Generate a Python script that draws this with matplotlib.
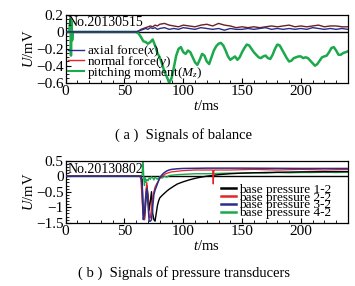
import matplotlib
matplotlib.use("Agg")
import matplotlib.pyplot as plt
from matplotlib.ticker import MultipleLocator
from matplotlib.lines import Line2D

plt.rcParams['font.family'] = ['Liberation Serif', 'DejaVu Serif']
plt.rcParams['mathtext.fontset'] = 'custom'
plt.rcParams['mathtext.rm'] = 'Liberation Serif'
plt.rcParams['mathtext.it'] = 'Liberation Serif:italic'

# ---------------- data: (a) balance ----------------
t_force = [0, 58, 60, 62, 64, 66, 68, 70, 72, 74, 76, 78, 80,
           84, 88, 92, 96, 100,
           105, 110, 115, 120, 125, 130, 135, 140, 145, 150,
           155, 160, 165, 170, 175, 180, 185, 190, 195, 200,
           205, 210, 215, 220, 225, 230, 235, 240]
axial = [0, 0, 0.0, 0.01, 0.02, 0.03, 0.04, 0.03, 0.05, 0.04, 0.05, 0.03, 0.04,
         0.05, 0.03, 0.04, 0.03, 0.05,
         0.04, 0.03, 0.05, 0.04, 0.03, 0.04, 0.02, 0.04, 0.03, 0.03,
         0.04, 0.03, 0.04, 0.05, 0.03, 0.04, 0.03, 0.04, 0.03, 0.04,
         0.03, 0.05, 0.04, 0.03, 0.04, 0.03, 0.04, 0.03]
normal = [0, 0, 0.0, 0.01, 0.03, 0.04, 0.05, 0.06, 0.07, 0.06, 0.08, 0.07, 0.09,
          0.10, 0.08, 0.07, 0.06, 0.08,
          0.07, 0.06, 0.08, 0.09, 0.07, 0.10, 0.08, 0.07, 0.05, 0.06,
          0.05, 0.06, 0.05, 0.06, 0.07, 0.06, 0.07, 0.08, 0.06, 0.07,
          0.06, 0.07, 0.08, 0.06, 0.07, 0.07, 0.06, 0.06]

t_pitch = [0, 3, 4, 4.5, 5, 5.5, 6, 10, 58] + list(range(60, 242, 2))
pitch = [0, 0, 0.15, -0.28, 0.12, -0.10, 0, 0, 0,
         # 60 - 100
         0.0, -0.02, -0.06, -0.11, -0.12, -0.14, -0.12, -0.09, -0.16, -0.25,
         -0.30, -0.38, -0.47, -0.53, -0.60, -0.55, -0.42, -0.28, -0.20, -0.18,
         -0.24,
         # 102 - 140
         -0.26, -0.22, -0.24, -0.30, -0.36, -0.39, -0.33, -0.26, -0.28, -0.35,
         -0.38, -0.30, -0.22, -0.17, -0.14, -0.13, -0.16, -0.22, -0.29, -0.33,
         # 142 - 180
         -0.31, -0.29, -0.33, -0.30, -0.24, -0.19, -0.15, -0.16, -0.20, -0.24,
         -0.27, -0.30, -0.31, -0.29, -0.28, -0.31, -0.32, -0.27, -0.20, -0.15,
         # 182 - 220
         -0.16, -0.21, -0.26, -0.31, -0.35, -0.34, -0.31, -0.30, -0.29, -0.29,
         -0.31, -0.30, -0.31, -0.34, -0.37, -0.40, -0.38, -0.34, -0.30, -0.29,
         # 222 - 240
         -0.28, -0.24, -0.19, -0.18, -0.22, -0.27, -0.27, -0.25, -0.24, -0.23]

# ---------------- data: (b) pressure ----------------
t_p1 = [0, 64, 65, 66, 67, 68, 69, 70, 71, 72, 73, 74, 75, 76, 77, 78, 79, 80,
        82, 84, 86, 88, 90, 92, 95, 100, 105, 110, 115, 120, 130, 140, 150, 170, 200, 240]
p1 = [0, 0, -0.1, -1.2, -1.4, -0.9, -0.3, -0.6, -1.1, -0.8, -0.5, -1.2, -1.4, -1.45, -1.2, -0.95, -0.8, -0.7,
      -0.62, -0.55, -0.48, -0.42, -0.37, -0.32, -0.25, -0.18, -0.12, -0.07, -0.03, 0.0, 0.05, 0.08, 0.10, 0.12, 0.14, 0.15]

t_p2 = [0, 63, 64, 65, 66, 67, 68, 69, 70, 71, 72, 73, 74, 75, 76, 78, 80, 82, 85, 90, 95, 100,
        110, 120, 125, 125.5, 126, 126.5, 130, 140, 160, 180, 200, 220, 240]
p2 = [0, 0, -0.1, -0.8, -1.3, -1.4, -0.6, -0.2, -0.7, -1.3, -1.35, -1.0, -0.7, -0.5, -0.35, -0.2, -0.08, 0.0, 0.08, 0.14, 0.16, 0.18,
      0.20, 0.20, 0.20, -0.25, 0.20, 0.20, 0.20, 0.20, 0.22, 0.20, 0.22, 0.20, 0.22]

t_p3 = [0, 64, 65, 66, 67, 68, 69, 70, 71, 72, 73, 74, 75, 76, 77, 78, 79, 80,
        82, 84, 86, 88, 90, 95, 100, 120, 150, 200, 240]
p3 = [0, 0, -0.3, -1.4, -1.2, -0.7, -0.4, -0.9, -1.45, -1.45, -1.4, -1.0, -0.6, -0.45, -0.35, -0.25, -0.15, -0.05,
      0.05, 0.12, 0.17, 0.20, 0.22, 0.24, 0.25, 0.26, 0.26, 0.25, 0.25]

t_p4 = [0, 64, 65, 65.5, 66, 66.5, 67, 67.5, 68, 69, 70, 71, 72, 73, 74, 75, 76, 78, 80, 82, 84, 86, 88, 90,
        95, 100, 110, 120, 130, 140, 150, 160, 170, 180, 190, 200, 210, 220, 230, 240]
p4 = [0, 0, 0.02, 0.5, 0.3, -0.1, -0.3, -0.05, -0.2, -0.1, -0.15, -0.05, -0.1, -0.02, -0.05, -0.12, -0.03, -0.1, -0.02, -0.06, 0.0, -0.03, 0.02, 0.03,
      0.05, 0.06, 0.08, 0.08, 0.09, 0.10, 0.10, 0.11, 0.10, 0.12, 0.11, 0.12, 0.12, 0.13, 0.12, 0.13]

C_BLUE = '#2a2d8c'
C_RED = '#e3242b'
C_DRED = '#6a2222'
C_GREEN = '#1ba94c'

fig = plt.figure(figsize=(3.55, 2.86), dpi=100)
ax1 = fig.add_axes([0.185, 0.711, 0.795, 0.2367])
ax2 = fig.add_axes([0.185, 0.2213, 0.795, 0.2168])

def style(ax):
    ax.set_xlim(0, 240)
    ax.xaxis.set_major_locator(MultipleLocator(50))
    ax.xaxis.set_minor_locator(MultipleLocator(10))
    ax.tick_params(which='both', direction='in', top=False, right=False, labelsize=11, pad=1.5)
    ax.tick_params(which='major', length=3.5, width=0.8)
    ax.tick_params(which='minor', length=2, width=0.6)
    for s in ax.spines.values():
        s.set_linewidth(0.9)
    ax.set_xlabel(r'$\it{t}$/ms', fontsize=10.5, labelpad=1)
    ax.set_ylabel(r'$\it{U}$/mV', fontsize=10.5, labelpad=0)
    ax.axhline(0, color='black', lw=1.0, zorder=1)

# (a)
ax1.plot(t_pitch, pitch, color=C_GREEN, lw=1.8, zorder=2)
ax1.plot(t_force, normal, color=C_DRED, lw=1.0, zorder=3)
ax1.plot(t_force, axial, color=C_BLUE, lw=1.0, zorder=3)
style(ax1)
ax1.set_ylim(-0.6, 0.2)
ax1.set_yticks([-0.6, -0.4, -0.2, 0, 0.2])
ax1.set_yticklabels(['−0.6', '−0.4', '−0.2', '0', '0.2'])
ax1.yaxis.set_minor_locator(MultipleLocator(0.05))
ax1.text(0.005, 0.99, 'No.20130515', transform=ax1.transAxes, fontsize=10, va='top', ha='left')
h1 = [Line2D([], [], color=C_BLUE, lw=1.0), Line2D([], [], color=C_RED, lw=1.0), Line2D([], [], color=C_GREEN, lw=1.5)]
l1 = [r'axial force($\it{x}$)', r'normal force($\it{y}$)', r'pitching moment($\it{M}_z$)']
ax1.legend(h1, l1, loc='lower left', bbox_to_anchor=(-0.01, -0.05), frameon=False, fontsize=9.5,
           handlelength=1.2, handletextpad=0.2, labelspacing=-0.4, borderaxespad=0)

# (b)
ax2.plot(t_p4, p4, color=C_GREEN, lw=1.0, zorder=2)
ax2.plot(t_p1, p1, color='black', lw=1.0, zorder=3)
ax2.plot(t_p2, p2, color=C_RED, lw=0.9, zorder=3)
ax2.plot(t_p3, p3, color=C_BLUE, lw=1.1, zorder=4)
style(ax2)
ax2.set_ylim(-1.5, 0.5)
ax2.set_yticks([-1.5, -1, -0.5, 0, 0.5])
ax2.set_yticklabels(['−1.5', '−1', '−0.5', '0', '0.5'])
ax2.yaxis.set_minor_locator(MultipleLocator(0.1))
ax2.text(0.005, 0.97, 'No.20130802', transform=ax2.transAxes, fontsize=10, va='top', ha='left')
h2 = [Line2D([], [], color=c, lw=1.8) for c in ['black', C_RED, C_BLUE, C_GREEN]]
l2 = ['base pressure 1-2', 'base pressure 2-2', 'base pressure 3-2', 'base pressure 4-2']
ax2.legend(h2, l2, loc='lower right', bbox_to_anchor=(0.96, -0.03), frameon=False, fontsize=9.5,
           handlelength=1.2, handletextpad=0.2, labelspacing=-0.33, borderaxespad=0)

fig.text(0.518, 1 - 135 / 286, '( a )  Signals of balance', ha='center', va='center', fontsize=10.5)
fig.text(0.518, 1 - 273 / 286, '( b )  Signals of pressure transducers', ha='center', va='center', fontsize=10.5)

fig.savefig('out.png', dpi=100)
